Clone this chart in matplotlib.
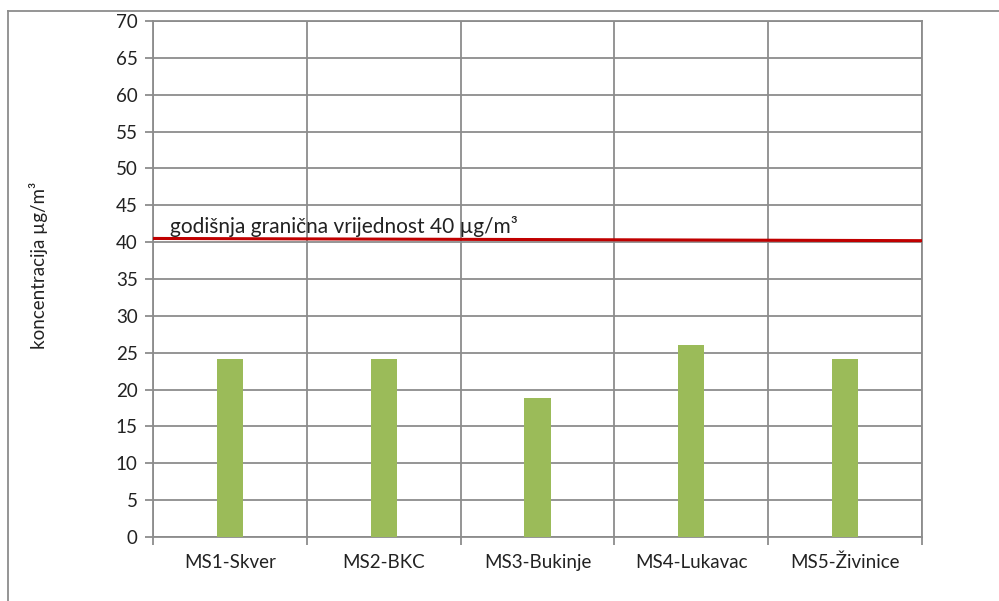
import matplotlib
matplotlib.use('Agg')
import matplotlib.pyplot as plt
from matplotlib.lines import Line2D
import numpy as np

# data
stations = ['MS1-Skver', 'MS2-BKC', 'MS3-Bukinje', 'MS4-Lukavac', 'MS5-Živinice']
konc = [24.1, 24.2, 18.8, 26.0, 24.2]
limit_x = [-0.5, 4.5]
limit_y = [40.5, 40.2]
yticks = list(range(0, 75, 5))
limit_label = 'godišnja granična vrijednost 40 µg/m³'
ylabel = 'koncentracija µg/m³'

plt.rcParams['font.family'] = ['Lato', 'DejaVu Sans']
grid_col = '#8c8c8c'
fs = 13.5

fig = plt.figure(figsize=(9.99, 6.01), dpi=100)
ax = fig.add_axes([153/999, 1-537/601, (922-153)/999, (537-21)/601])

x = np.arange(len(stations))
ax.bar(x, konc, width=0.17, color='#9bbb59', zorder=3)
ax.plot(limit_x, limit_y, color='#c00000', lw=2.2, zorder=4)
ax.text(-0.39, 41.3, limit_label, fontsize=15, color='#222222', zorder=5)

ax.set_xlim(-0.5, len(stations)-0.5)
ax.set_ylim(0, 70)
ax.set_yticks(yticks)
ax.set_xticks(x)
ax.set_xticklabels(stations, fontsize=fs, color='#222222')
ax.set_xticks(np.arange(-0.5, len(stations), 1.0), minor=True)
ax.tick_params(axis='x', which='major', length=0, pad=12)
ax.tick_params(axis='x', which='minor', length=6, color=grid_col, width=1.3, direction='out')
ax.tick_params(axis='y', length=6, color=grid_col, width=1.3, labelsize=fs, labelcolor='#222222', pad=5)
ax.grid(axis='y', color=grid_col, lw=1.3, zorder=1)
ax.grid(axis='x', which='minor', color=grid_col, lw=1.3, zorder=1)
for s in ax.spines.values():
    s.set_color(grid_col)
    s.set_linewidth(1.3)
ax.set_ylabel(ylabel, fontsize=fs, color='#222222')
ax.yaxis.set_label_coords(-0.137, 0.527)

# outer chart frame
fig.add_artist(Line2D([8/999, 1.0], [1-11/601, 1-11/601], color='#8c8c8c', lw=1.3, transform=fig.transFigure))
fig.add_artist(Line2D([8/999, 8/999], [0.0, 1-11/601], color='#8c8c8c', lw=1.3, transform=fig.transFigure))

fig.savefig('out.png', dpi=100)
